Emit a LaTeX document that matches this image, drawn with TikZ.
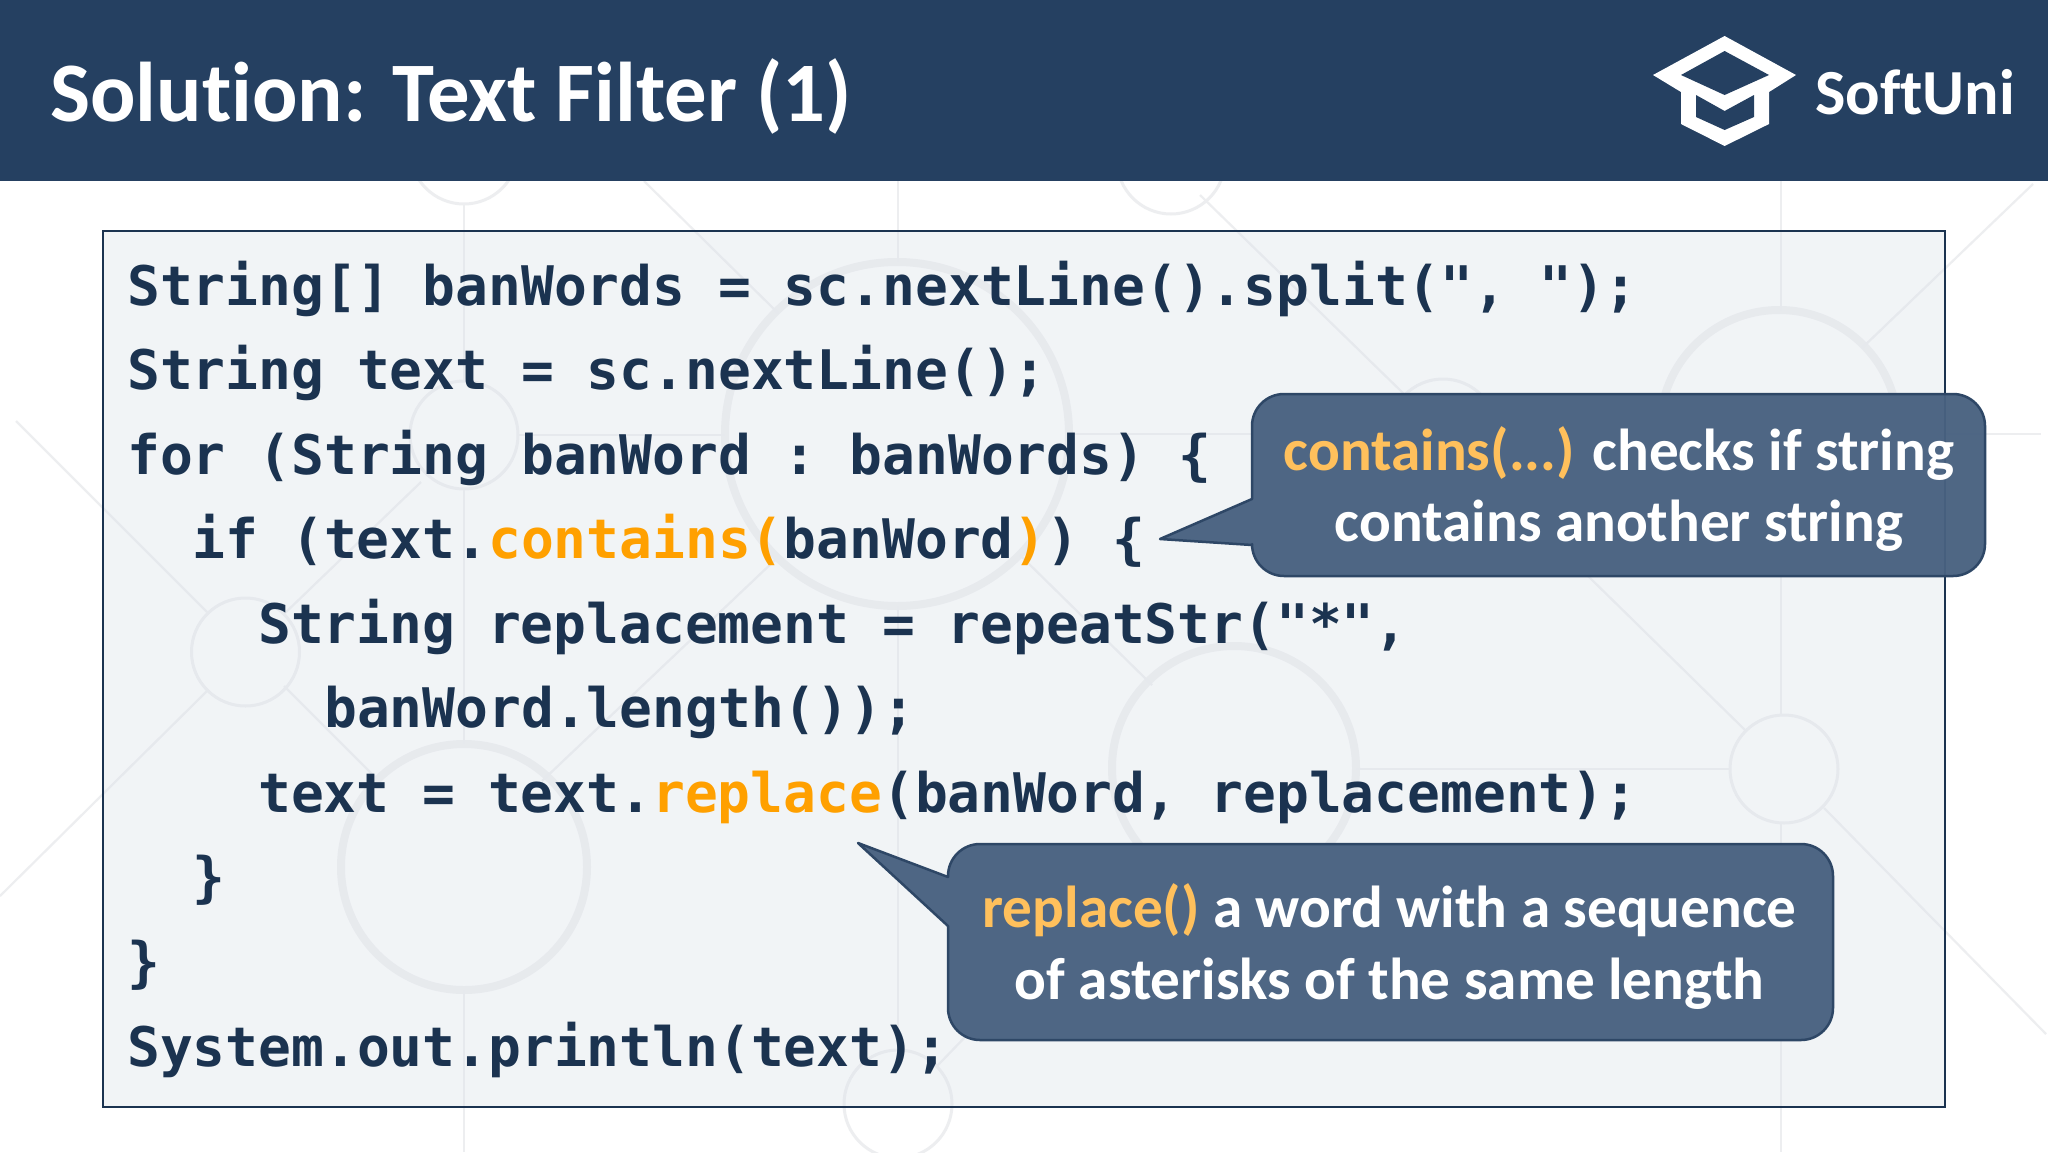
\documentclass[tikz,border=0pt]{standalone}
\usepackage{fontspec}
\setmainfont[Ligatures=NoCommon]{Carlito}
\setmonofont{DejaVu Sans Mono}
\definecolor{navy}{HTML}{254061}
\definecolor{codeink}{HTML}{1B3350}
\definecolor{hilite}{HTML}{FFA000}
\definecolor{softhl}{HTML}{FFC05C}
\definecolor{ring}{HTML}{EFF0F1}
\definecolor{wire}{HTML}{EDEEF0}
\definecolor{panelfill}{HTML}{D9E0E8}
\definecolor{calloutfill}{HTML}{486180}
\definecolor{calloutedge}{HTML}{2E4766}
\tikzset{
  bigring/.style={draw=ring,line width=8pt},
  smallring/.style={draw=wire,line width=3pt},
  bgwire/.style={draw=wire,line width=2.2pt},
  codeline/.style={anchor=base west,inner sep=0pt,text=codeink,font=\ttfamily\bfseries\fontsize{54.55}{60}\selectfont},
  callout/.style={draw=calloutedge,line width=2.5pt,fill=calloutfill,fill opacity=.96,line join=round},
  notetext/.style={anchor=base,inner sep=0pt,text=white,font=\bfseries\fontsize{59.2}{64}\selectfont},
}
\newcommand{\hl}[1]{\textcolor{hilite}{#1}}
\newcommand{\sh}[1]{\textcolor{softhl}{#1}}
\begin{document}
\begin{tikzpicture}[x=1pt,y=-1pt]
\useasboundingbox (0,0) rectangle (2048,1152);
\fill[white] (0,0) rectangle (2048,1152);
% background pattern
\draw[bigring] (897,434) circle (172);
\draw[bigring] (464,867) circle (123);
\draw[bigring] (1234,768) circle (122);
\draw[bigring] (1779,429) circle (119);
\draw[smallring] (245.5,652) circle (54);
\draw[smallring] (464,435) circle (54);
\draw[smallring] (1784,769) circle (54);
\draw[smallring] (898,1104) circle (54);
\draw[smallring] (464,150) circle (54);
\draw[smallring] (1171,160) circle (54);
\draw[smallring] (1443,433) circle (54);
\draw[bgwire] (464,204) -- (464,381) (464,489) -- (464,744) (464,990) -- (464,1152);
\draw[bgwire] (898,181) -- (898,262) (898,606) -- (898,1050);
\draw[bgwire] (1781,181) -- (1781,311) (1781,550) -- (1781,715) (1781,823) -- (1781,1152);
\draw[bgwire] (518,435) -- (725,435) (1069,434) -- (1389,434) (1497,434) -- (1660,434) (1898,434) -- (2041,434);
\draw[bgwire] (1356,769) -- (1730,769);
\draw[bgwire] (16,421) -- (207,612) (284,686) -- (376,778);
\draw[bgwire] (0,896) -- (207,691) (284,614) -- (421,482);
\draw[bgwire] (542,781) -- (775,560);
\draw[bgwire] (644,181) -- (778,313);
\draw[bgwire] (1200,195) -- (1405,395);
\draw[bgwire] (1481,471) -- (1746,731);
\draw[bgwire] (2033,184) -- (1862,348);
\draw[bgwire] (1824,808) -- (2046,1034);
\draw[bgwire] (1136,861) -- (937,1066);
\draw[bgwire] (1020,555) -- (1152,685);
% header
\fill[navy] (0,0) rectangle (2048,181);
\node[anchor=base west,inner sep=0pt,text=white,font=\bfseries\fontsize{84.7}{90}\selectfont] (title) at (50,121) {Solution: Text Filter (1)};
% logo
\fill[white] (1724.6,36) -- (1796,75) -- (1769,92) -- (1769,124) -- (1724.6,146) -- (1681,124) -- (1681,92) -- (1653,75) -- cycle;
\fill[navy] (1724.6,51) -- (1769,75) -- (1724.6,95) -- (1681,75) -- cycle;
\fill[navy] (1696,95) -- (1724.6,111) -- (1754,95) -- (1754,117) -- (1724.6,130) -- (1696,117) -- cycle;
\node[anchor=base west,inner sep=0pt,text=white,font=\bfseries\fontsize{64.3}{70}\selectfont] (brand) at (1815,114) {SoftUni};
% code panel
\draw[draw=codeink,line width=2pt,fill=panelfill,fill opacity=.35] (103,231) rectangle (1945,1107);
\node[codeline] (l1) at (127,305) {String[] banWords = sc.nextLine().split(", ");};
\node[codeline] (l2) at (127,389.5) {String text = sc.nextLine();};
\node[codeline] (l3) at (127,474) {for (String banWord : banWords) \{};
\node[codeline] (l4) at (192.5,558.5) {if (text.\hl{contains(}banWord\hl{)}) \{};
\node[codeline] (l5) at (258,643) {String replacement = repeatStr("*",};
\node[codeline] (l6) at (324,727.5) {banWord.length());};
\node[codeline] (l7) at (258,812) {text = text.\hl{replace}(banWord, replacement);};
\node[codeline] (l8) at (192.5,896.5) {\}};
\node[codeline] (l9) at (127,981) {\}};
\node[codeline] (l10) at (127,1066) {System.out.println(text);};
% callouts
\draw[callout] (1252,545) -- (1160,539) -- (1252,499) [rounded corners=32] -- (1252,394) -- (1985,394) -- (1985,576) -- (1252,576) [sharp corners] -- cycle;
\node[notetext] (n1a) at (1619,470.3) {\sh{contains(...)} checks if string};
\node[notetext] (n1b) at (1619,541.3) {contains another string};
\draw[callout] (948,926) -- (858,843) -- (948,877) [rounded corners=32] -- (948,844) -- (1833,844) -- (1833,1040) -- (948,1040) [sharp corners] -- cycle;
\node[notetext] (n2a) at (1389.6,927.3) {\sh{replace()} a word with a sequence};
\node[notetext] (n2b) at (1389.6,999.3) {of asterisks of the same length};
\end{tikzpicture}
\end{document}
